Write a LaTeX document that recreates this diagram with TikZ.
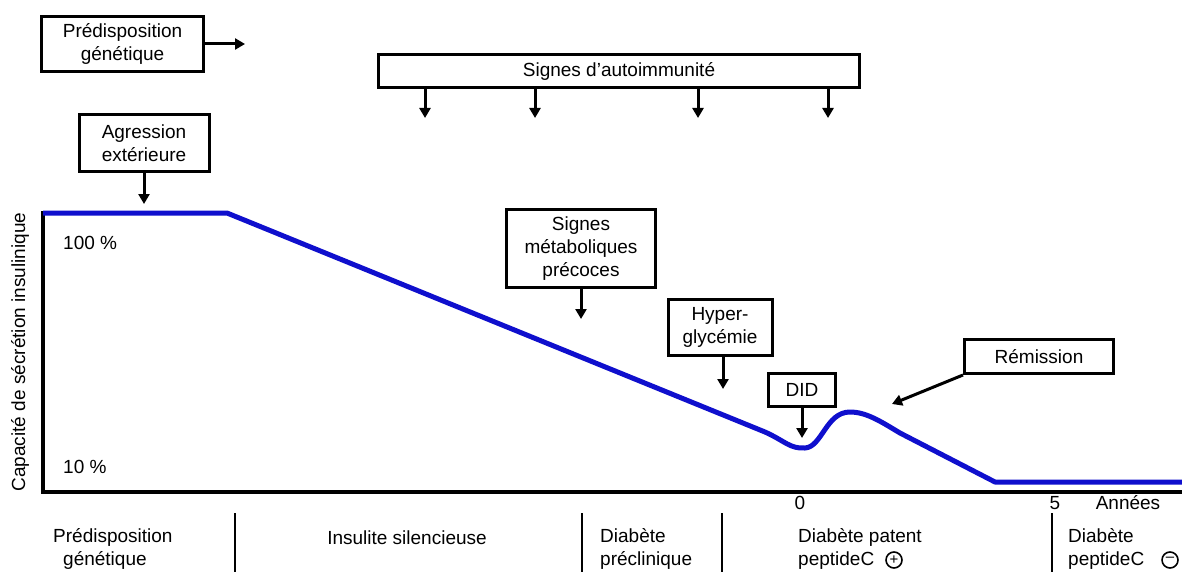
\documentclass[tikz,border=0pt]{standalone}
\usepackage{fontspec}
\setmainfont{Liberation Sans}
\usetikzlibrary{arrows.meta,calc}
\definecolor{curveblue}{RGB}{15,15,205}
\newcommand\lblfont{\fontsize{19}{23}\selectfont}
\begin{document}
\begin{tikzpicture}[x=1pt,y=-1pt,
  box/.style={draw,line width=3pt,align=center,inner sep=0pt,font=\lblfont},
  arr/.style={-{Triangle[length=10pt,width=11pt]},line width=3pt},
  lbl/.style={inner sep=0pt,font=\lblfont},
  lbll/.style={inner sep=0pt,font=\lblfont,align=left,anchor=west},
  sep/.style={line width=2.5pt},
  axis/.style={line width=4.5pt},
  pm/.style={circle,draw,line width=1.6pt,minimum size=16pt,inner sep=0pt,font=\fontsize{15}{15}\selectfont}]
\useasboundingbox (0,0) rectangle (1182,572);
\fill[white] (0,0) rectangle (1182,572);

% boxes
\node[box,minimum width=162pt,minimum height=55pt] (pred) at (122.5,44) {Prédisposition\\génétique};
\node[box,minimum width=481pt,minimum height=33pt] (auto) at (619,71) {Signes d'autoimmunité};
\node[box,minimum width=130pt,minimum height=57pt] (agr) at (144,143) {Agression\\extérieure};
\node[box,minimum width=149pt,minimum height=78pt] (meta) at (581,248.5) {Signes\\métaboliques\\précoces};
\node[box,minimum width=104pt,minimum height=56pt] (hyper) at (720,327.5) {Hyper-\\glycémie};
\node[box,minimum width=67pt,minimum height=33pt] (did) at (802,390) {DID};
\node[box,minimum width=149pt,minimum height=34pt] (rem) at (1039,356.5) {Rémission};

% arrow ends
\coordinate (predE) at (245,44);
\coordinate (a1) at (425,118);
\coordinate (a2) at (535,118);
\coordinate (a3) at (698,118);
\coordinate (a4) at (828,118);
\coordinate (agrE) at (144,204);
\coordinate (metaE) at (581,319);
\coordinate (hyperE) at (723,389);
\coordinate (didE) at (802,438);
\coordinate (remE) at (892,404);

\draw[arr] (pred.east) -- (predE);
\draw[arr] (a1 |- auto.south) -- (a1);
\draw[arr] (a2 |- auto.south) -- (a2);
\draw[arr] (a3 |- auto.south) -- (a3);
\draw[arr] (a4 |- auto.south) -- (a4);
\draw[arr] (agr.south) -- (agrE);
\draw[arr] (meta.south) -- (metaE);
\draw[arr] (hyperE |- hyper.south) -- (hyperE);
\draw[arr] (did.south) -- (didE);
\draw[arr] (rem.south west) -- (remE);

% axes
\coordinate (org) at (43,492);
\draw[axis] (43,211) -- (org) -- (1182,492);

% curve
\draw[curveblue,line width=5pt,line join=round]
  (43,213) -- (227,213) -- (765,432)
  .. controls (785,441) and (790,449) .. (805,448)
  .. controls (822,447) and (826,412) .. (850,412)
  .. controls (866,412) and (880,421) .. (900,433)
  -- (995,482) -- (1182,482);

% axis labels
\node[lbll] (p100) at (63,243) {100 \%};
\node[lbll] (p10) at (63,467) {10 \%};
\node[lbl,rotate=90] (ylab) at (20,352) {Capacité de sécrétion insulinique};
\node[lbl] (t0) at (800,503) {0};
\node[lbl] (t5) at (1055,503) {5};
\node[lbl] (ann) at (1128,503) {Années};

% phase separators
\draw[sep] (235,513) -- (235,572);
\draw[sep] (582,513) -- (582,572);
\draw[sep] (722,513) -- (722,572);
\draw[sep] (1052,513) -- (1052,572);

% phases
\node[lbll,anchor=north west] (ph1) at (53,528) {Prédisposition\\\hspace{10pt}génétique};
\node[lbl] (ph2) at (407,538) {Insulite silencieuse};
\node[lbll,anchor=north west] (ph3) at (600,528) {Diabète\\préclinique};
\node[lbll,anchor=north west] (ph4) at (798,528) {Diabète patent\\peptideC};
\node[pm] (plus) at (894,560) {+};
\node[lbll,anchor=north west] (ph5) at (1068,528) {Diabète\\peptideC};
\node[pm] (minus) at (1170,560) {\raisebox{1pt}{--}};
\end{tikzpicture}
\end{document}
